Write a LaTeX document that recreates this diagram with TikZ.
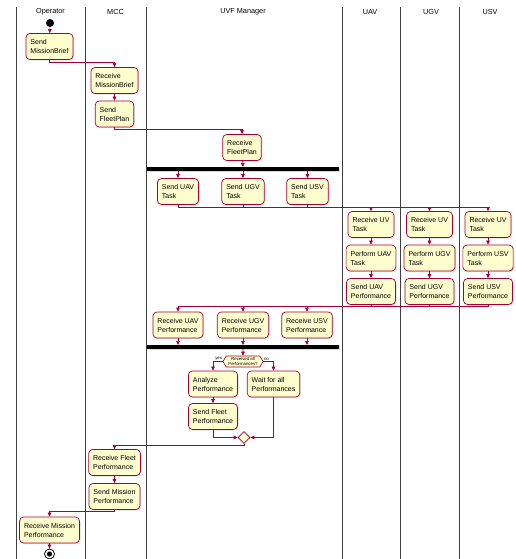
\documentclass[tikz,border=0pt]{standalone}
\usepackage{fontspec}
\usetikzlibrary{arrows.meta,shapes.geometric,shapes.symbols,shadows}
\newfontfamily\umlfont{Liberation Sans}
\definecolor{umlred}{HTML}{A80036}
\definecolor{umlfill}{HTML}{FEFECE}
\begin{document}
\begin{tikzpicture}[x=1pt, y=-1pt, font=\umlfont\fontsize{7}{9}\selectfont,
  act/.style={draw=umlred, fill=umlfill, line width=0.7pt, rounded corners=4pt,
    align=left, inner xsep=4.5pt, inner ysep=3pt, minimum height=26pt,
    drop shadow={opacity=0.25, shadow xshift=1.2pt, shadow yshift=-1.2pt}},
  bar/.style={fill=black, inner sep=0pt, minimum width=192pt, minimum height=3.5pt,
    drop shadow={opacity=0.3, shadow xshift=1pt, shadow yshift=-1pt}},
  lanehead/.style={font=\umlfont\fontsize{7.3}{9}\selectfont},
  flow/.style={-{Triangle[length=4pt, width=3.6pt]}, umlred, line width=0.6pt},
  wire/.style={umlred, line width=0.6pt},
  tinylbl/.style={font=\umlfont\fontsize{4.3}{5}\selectfont, inner sep=0.5pt}]
  \useasboundingbox (0,0) rectangle (515,559);
  % swimlanes
  \foreach \x in {16,85,146,342,400,459} \draw[black!75, line width=0.9pt] (\x,7) -- (\x,559);
  \node[lanehead] (hop) at (50.5,12) {Operator};
  \node[lanehead] (hmcc) at (115.5,12) {MCC};
  \node[lanehead] (huvf) at (243,12) {UVF Manager};
  \node[lanehead] (huav) at (370,12) {UAV};
  \node[lanehead] (hugv) at (431,12) {UGV};
  \node[lanehead] (husv) at (490,12) {USV};
  % activities
  \node[circle, fill=black, inner sep=0pt, minimum size=8pt] (start) at (50,23) {};
  \node[act] (smb) at (49.5,46.5) {Send\\MissionBrief};
  \node[act] (rmb) at (114.5,80.5) {Receive\\MissionBrief};
  \node[act] (sfp) at (114.5,114) {Send\\FleetPlan};
  \node[act] (rfp) at (242,147.5) {Receive\\FleetPlan};
  \node[bar] (fork) at (243,169) {};
  \node[act] (sut) at (178,191.5) {Send UAV\\Task};
  \node[act] (sgt) at (243,191.5) {Send UGV\\Task};
  \node[act] (sst) at (307.5,191.5) {Send USV\\Task};
  \node[act] (ruva) at (371,224.5) {Receive UV\\Task};
  \node[act] (ruvg) at (429.5,224.5) {Receive UV\\Task};
  \node[act] (ruvs) at (488,224.5) {Receive UV\\Task};
  \node[act] (pua) at (371,258) {Perform UAV\\Task};
  \node[act] (pug) at (429.5,258) {Perform UGV\\Task};
  \node[act] (pus) at (488,258) {Perform USV\\Task};
  \node[act] (sua) at (371,291.5) {Send UAV\\Performance};
  \node[act] (sug) at (429.5,291.5) {Send UGV\\Performance};
  \node[act] (sus) at (488,291.5) {Send USV\\Performance};
  \node[act] (rua) at (178,325) {Receive UAV\\Performance};
  \node[act] (rug) at (243,325) {Receive UGV\\Performance};
  \node[act] (rus) at (307,325) {Receive USV\\Performance};
  \node[bar] (join) at (243,347) {};
  \node[shape=signal, signal to=west and east, signal pointer angle=120, draw=umlred,
    fill=umlfill, line width=0.6pt, minimum height=11pt, minimum width=40pt,
    inner xsep=0.5pt, inner ysep=0.3pt, align=center,
    font=\umlfont\fontsize{4.3}{4.8}\selectfont] (hex) at (243,361.5) {Received all\\Performances?};
  \node[act] (ana) at (213,384) {Analyze\\Performance};
  \node[act] (wait) at (273.5,384) {Wait for all\\Performances};
  \node[act] (sfl) at (213,416.5) {Send Fleet\\Performance};
  \node[diamond, draw=umlred, fill=umlfill, line width=0.6pt, inner sep=0pt,
    minimum size=12pt] (merge) at (244,437.5) {};
  \node[act] (rfl) at (114.5,462.5) {Receive Fleet\\Performance};
  \node[act] (smp) at (114.5,496.5) {Send Mission\\Performance};
  \node[act] (rmp) at (49.5,530) {Receive Mission\\Performance};
  \node[circle, draw=black, line width=0.8pt, inner sep=0pt, minimum size=10pt] (stop) at (49.5,554) {};
  \fill[black] (stop.center) circle (2.6pt);
  % flows
  \draw[flow] (start) -- (smb);
  \draw[flow] (smb.south) -- ++(0,2.5) -| (rmb.north);
  \draw[flow] (rmb) -- (sfp);
  \draw[flow] (sfp.south) -- ++(0,1.5) -| (rfp.north);
  \draw[flow] (rfp) -- (fork);
  \foreach \t in {sut,sgt,sst} \draw[flow] (\t.north |- fork.south) -- (\t.north);
  \foreach \t in {ruva,ruvg,ruvs} \draw[flow] (sut.south) -- ++(0,2) -| (\t.north);
  \foreach \s in {sgt,sst} \draw[wire] (\s.south) -- ++(0,2);
  \draw[flow] (ruva) -- (pua);
  \draw[flow] (ruvg) -- (pug);
  \draw[flow] (ruvs) -- (pus);
  \draw[flow] (pua) -- (sua);
  \draw[flow] (pug) -- (sug);
  \draw[flow] (pus) -- (sus);
  \foreach \t in {rua,rug,rus} \draw[flow] (sus.south) -- ++(0,1.5) -| (\t.north);
  \foreach \s in {sua,sug} \draw[wire] (\s.south) -- ++(0,1.5);
  \foreach \t in {rua,rug,rus} \draw[flow] (\t.south) -- (\t.south |- join.north);
  \draw[flow] (join) -- (hex);
  \draw[flow] (hex.west) -| (ana.north);
  \draw[flow] (hex.east) -| (wait.north);
  \node[tinylbl, anchor=south east] (lyes) at (hex.west) {yes};
  \node[tinylbl, anchor=south west] (lno) at (hex.east) {no};
  \draw[flow] (ana) -- (sfl);
  \draw[flow] (sfl.south) |- (merge.west);
  \draw[flow] (wait.south) |- (merge.east);
  \draw[flow] (merge.south) -- ++(0,1.5) -| (rfl.north);
  \draw[flow] (rfl) -- (smp);
  \draw[flow] (smp.south) -- ++(0,1.5) -| (rmp.north);
  \draw[flow] (rmp) -- (stop);
\end{tikzpicture}
\end{document}
